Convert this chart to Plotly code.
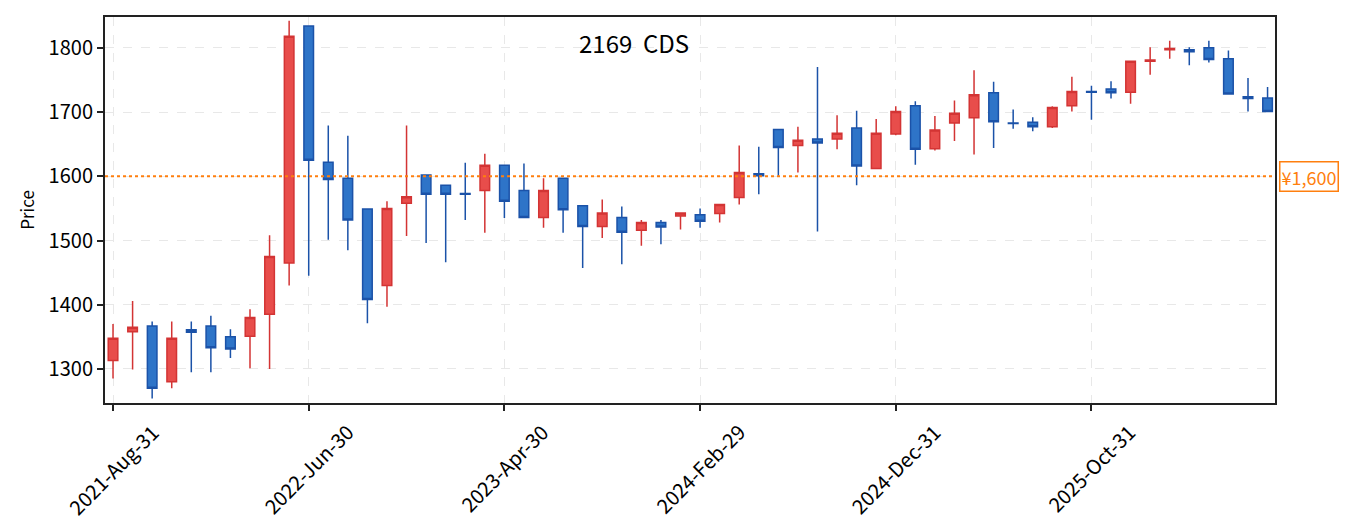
import pandas as pd
import plotly.graph_objects as go

# 月足データ（2021-08 ～ 2026-07）
dates = pd.date_range("2021-08-31", periods=60, freq="ME")
labels = [d.strftime("%Y-%b-%d") for d in dates]

opens = [1313, 1358, 1367, 1280, 1361, 1367, 1350, 1351, 1385, 1465,
         1834, 1622, 1597, 1549, 1430, 1558, 1602, 1586, 1573, 1578,
         1617, 1578, 1536, 1597, 1554, 1522, 1536, 1516, 1528, 1538,
         1540, 1542, 1567, 1604, 1673, 1648, 1658, 1658, 1675, 1612,
         1666, 1710, 1643, 1683, 1691, 1730, 1683, 1684, 1677, 1710,
         1732, 1736, 1731, 1779, 1797, 1797, 1800, 1783, 1724, 1722]
highs = [1370, 1406, 1374, 1374, 1374, 1383, 1362, 1393, 1508, 1842,
         1834, 1679, 1663, 1549, 1561, 1679, 1602, 1586, 1621, 1635,
         1617, 1620, 1597, 1597, 1554, 1564, 1553, 1532, 1532, 1543,
         1550, 1556, 1648, 1646, 1673, 1677, 1770, 1695, 1702, 1689,
         1709, 1717, 1694, 1718, 1765, 1747, 1704, 1692, 1709, 1755,
         1741, 1748, 1780, 1801, 1811, 1801, 1811, 1796, 1753, 1739]
lows = [1285, 1299, 1254, 1270, 1295, 1295, 1317, 1301, 1300, 1430,
        1445, 1501, 1485, 1371, 1397, 1507, 1496, 1466, 1532, 1512,
        1535, 1535, 1520, 1512, 1457, 1504, 1463, 1492, 1494, 1517,
        1520, 1528, 1556, 1572, 1601, 1606, 1514, 1642, 1586, 1612,
        1664, 1618, 1640, 1655, 1634, 1644, 1674, 1670, 1675, 1701,
        1688, 1721, 1713, 1758, 1783, 1773, 1777, 1728, 1701, 1701]
closes = [1348, 1365, 1270, 1348, 1357, 1333, 1331, 1380, 1475, 1818,
          1625, 1595, 1532, 1408, 1550, 1568, 1572, 1572, 1572, 1617,
          1561, 1536, 1578, 1548, 1522, 1543, 1513, 1528, 1521, 1543,
          1530, 1556, 1606, 1601, 1645, 1656, 1652, 1667, 1616, 1667,
          1701, 1642, 1672, 1698, 1727, 1685, 1682, 1677, 1707, 1732,
          1731, 1730, 1779, 1781, 1799, 1794, 1782, 1728, 1721, 1701]

ref_price = 1600
tick_idx = [0, 10, 20, 30, 40, 50]
tick_labels = [labels[i] for i in tick_idx]

font = "Noto Sans CJK JP"

fig = go.Figure()
fig.add_trace(go.Candlestick(
    x=labels, open=opens, high=highs, low=lows, close=closes,
    increasing=dict(fillcolor="#E84D4B", line=dict(color="#D33434", width=1.5)),
    decreasing=dict(fillcolor="#2E74C8", line=dict(color="#1B52A8", width=1.5)),
    whiskerwidth=0, showlegend=False,
))

# 基準線 1600
fig.add_shape(type="line", xref="paper", x0=0, x1=1, yref="y", y0=ref_price, y1=ref_price,
              line=dict(color="#FF7F0E", width=2, dash="dot"))
fig.add_annotation(xref="paper", x=1.003, y=ref_price, xanchor="left", yanchor="middle",
                   text="¥{:,}".format(ref_price), showarrow=False,
                   font=dict(family=font, size=18, color="#FF7F0E"),
                   bgcolor="white", bordercolor="#FF7F0E", borderwidth=1.5, borderpad=1)
fig.add_annotation(xref="paper", yref="paper", x=0.452, y=0.933, xanchor="center", yanchor="middle",
                   text="2169&nbsp;&nbsp;CDS", showarrow=False,
                   font=dict(family=font, size=24, color="black"))

# x軸ラベル（目盛の中央に45度回転）
for t in tick_labels:
    fig.add_annotation(x=t, xref="x", y=0, yref="paper", yanchor="top", xanchor="center",
                       yshift=-12, text=t, textangle=-45, showarrow=False,
                       font=dict(family=font, size=20, color="black"))

fig.update_layout(
    width=1347, height=524,
    margin=dict(l=97, r=80, t=7, b=129),
    paper_bgcolor="white", plot_bgcolor="white",
    font=dict(family=font, size=20, color="black"),
    xaxis=dict(type="category", range=[-0.41, 59.38], rangeslider=dict(visible=False),
               tickmode="array", tickvals=tick_labels, showticklabels=False,
               ticks="outside", ticklen=6, tickwidth=1.5, tickcolor="#222",
               showline=True, linecolor="#222", linewidth=2, mirror=True,
               showgrid=True, gridcolor="#E8E8E8", griddash="dash", gridwidth=1.2,
               zeroline=False),
    yaxis=dict(range=[1247, 1848], tickvals=[1300, 1400, 1500, 1600, 1700, 1800],
               title=dict(text="Price", font=dict(size=17), standoff=10),
               ticks="outside", ticklen=6, tickwidth=1.5, tickcolor="#222",
               showline=True, linecolor="#222", linewidth=2, mirror=True,
               showgrid=True, gridcolor="#E8E8E8", griddash="dash", gridwidth=1.2,
               zeroline=False),
)

fig.write_html("out.html")
